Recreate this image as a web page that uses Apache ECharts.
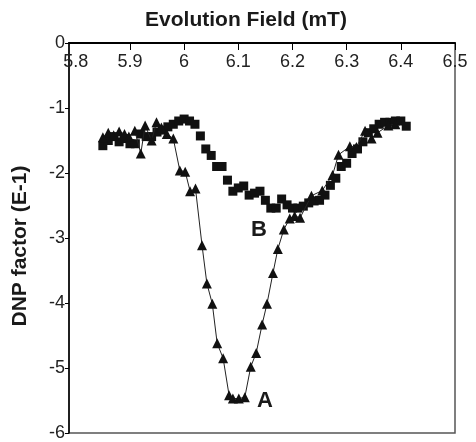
<!DOCTYPE html>
<html>
<head>
<meta charset="utf-8">
<script src="https://cdn.jsdelivr.net/npm/echarts@6/dist/echarts.min.js"></script>
<style>html,body{margin:0;padding:0;background:#fff}#c{width:476px;height:442px}</style>
</head>
<body>
<div id="c"></div>
<script>
// Series A (triangles, connected)
var fieldA = [5.850,5.860,5.870,5.880,5.890,5.898,5.909,5.920,5.928,5.940,5.949,5.958,5.968,5.980,5.992,6.002,6.011,6.021,6.033,6.042,6.052,6.061,6.072,6.083,6.090,6.101,6.112,6.123,6.133,6.144,6.153,6.164,6.173,6.184,6.195,6.204,6.214,6.235,6.255,6.274,6.285,6.306,6.318,6.334,6.346,6.357,6.377,6.390];
var dnpA   = [-1.45,-1.38,-1.42,-1.36,-1.40,-1.44,-1.35,-1.70,-1.27,-1.50,-1.22,-1.30,-1.40,-1.47,-1.96,-1.98,-2.28,-2.24,-3.11,-3.70,-4.01,-4.62,-4.85,-5.42,-5.47,-5.47,-5.45,-4.98,-4.77,-4.33,-4.01,-3.54,-3.17,-2.87,-2.70,-2.66,-2.69,-2.35,-2.27,-2.03,-1.72,-1.59,-1.60,-1.35,-1.47,-1.38,-1.27,-1.25];
// Series B (squares, markers only)
var fieldB = [5.85,5.86,5.87,5.88,5.89,5.90,5.91,5.92,5.93,5.94,5.95,5.96,5.97,5.98,5.99,6.00,6.01,6.02,6.03,6.04,6.05,6.06,6.07,6.08,6.09,6.10,6.11,6.12,6.13,6.14,6.15,6.16,6.17,6.18,6.19,6.20,6.21,6.22,6.23,6.24,6.25,6.26,6.27,6.28,6.29,6.30,6.31,6.32,6.33,6.34,6.35,6.36,6.37,6.38,6.39,6.40,6.41];
var dnpB   = [-1.58,-1.50,-1.44,-1.52,-1.47,-1.55,-1.55,-1.40,-1.44,-1.44,-1.37,-1.34,-1.29,-1.25,-1.20,-1.17,-1.20,-1.25,-1.43,-1.63,-1.73,-1.90,-1.90,-2.11,-2.28,-2.23,-2.20,-2.34,-2.31,-2.28,-2.42,-2.54,-2.54,-2.40,-2.49,-2.54,-2.54,-2.51,-2.46,-2.43,-2.42,-2.34,-2.19,-2.08,-1.90,-1.85,-1.70,-1.63,-1.52,-1.38,-1.32,-1.25,-1.22,-1.22,-1.20,-1.20,-1.28];
// Tick labels
var xTicks = [5.8,5.9,6.0,6.1,6.2,6.3,6.4,6.5];
var xTickMarks = [5.9,6.0,6.1,6.2,6.3,6.4,6.5];
var seriesNames = ['A','B'];

var chart = echarts.init(document.getElementById('c'), null, {renderer:'canvas'});
function pairs(xs, ys){ return xs.map(function(x,i){ return [x, ys[i]]; }); }
var font = '"Liberation Sans", Arial, sans-serif';
chart.setOption({
  animation:false,
  backgroundColor:'#fff',
  grid:{left:69,right:21,top:43,bottom:4,show:true,borderColor:'#555',borderWidth:1.5,backgroundColor:'transparent'},
  xAxis:{
    type:'value', position:'top', min:5.7875, max:6.5,
    name:'Evolution Field (mT)', nameLocation:'middle', nameGap:12,
    nameTextStyle:{fontFamily:font,fontWeight:'bold',fontSize:21,color:'#1a1a1a',padding:[0,32,0,0]},
    axisLine:{show:true,onZero:false,lineStyle:{color:'#000',width:2}},
    axisTick:{show:true,inside:true,length:7,customValues:xTickMarks,lineStyle:{color:'#000'}},
    axisLabel:{inside:true,margin:10,customValues:xTicks,fontFamily:font,fontSize:18,color:'#222'},
    splitLine:{show:false}
  },
  yAxis:{
    type:'value', min:-6, max:0, interval:1,
    name:'DNP factor (E-1)', nameLocation:'middle', nameGap:38,
    nameTextStyle:{fontFamily:font,fontWeight:'bold',fontSize:21,color:'#1a1a1a',padding:[0,16,0,0]},
    axisLine:{show:true,onZero:false,lineStyle:{color:'#000',width:1.5}},
    axisTick:{show:true,length:4,lineStyle:{color:'#000'}},
    axisLabel:{margin:4,fontFamily:font,fontSize:18,color:'#222'},
    splitLine:{show:false}
  },
  series:[
    {name:seriesNames[0],type:'line',data:pairs(fieldA,dnpA),symbol:'triangle',symbolSize:10,
     lineStyle:{color:'#222',width:1},itemStyle:{color:'#111',opacity:1},z:3},
    {name:seriesNames[1],type:'scatter',data:pairs(fieldB,dnpB),symbol:'rect',symbolSize:9,
     itemStyle:{color:'#111',opacity:1},z:2}
  ],
  graphic:[
    {type:'text',left:257,top:390,style:{text:'A',font:'bold 22px '+font,fill:'#1a1a1a'}},
    {type:'text',left:251,top:219,style:{text:'B',font:'bold 22px '+font,fill:'#1a1a1a'}}
  ]
});
</script>
</body>
</html>
